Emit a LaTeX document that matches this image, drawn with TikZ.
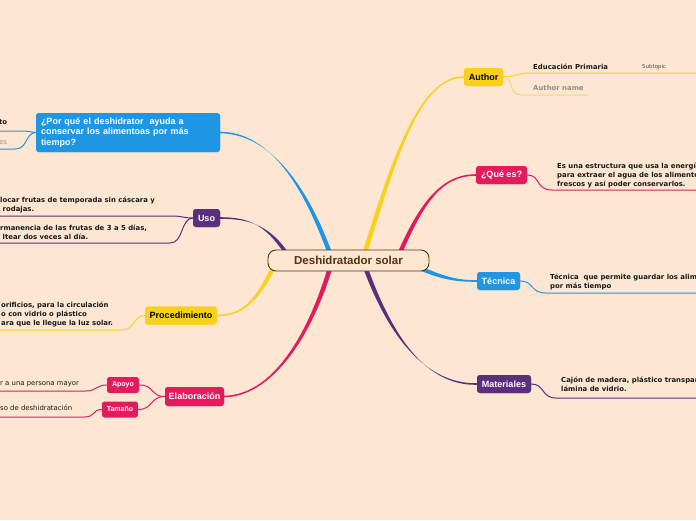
\documentclass[tikz,border=0pt]{standalone}
\usepackage{fontspec}
\setmainfont{Liberation Sans}
\newfontfamily\dejavu{DejaVu Sans}
\usetikzlibrary{calc}
\definecolor{bg}{RGB}{253,231,210}
\definecolor{myyellow}{RGB}{249,208,30}
\definecolor{mypink}{RGB}{226,27,95}
\definecolor{myblue}{RGB}{30,150,228}
\definecolor{mypurple}{RGB}{92,46,126}
\definecolor{brownc}{RGB}{85,50,12}
\definecolor{graytxt}{RGB}{150,140,128}
\definecolor{lightyellow}{RGB}{246,215,110}
\definecolor{darktxt}{RGB}{25,25,25}
\newcommand\taper[6]{%
  \fill[#1] ($#2+#6$) .. controls ($#3+#6$) and ($#4+(0,0.8)$) .. ($#5+(0,0.8)$)
    -- ($#5-(0,0.8)$) .. controls ($#4-(0,0.8)$) and ($#3-#6$) .. ($#2-#6$) -- cycle;}
\begin{document}
\begin{tikzpicture}[x=1pt,y=-1pt,
  topic/.style={rounded corners=3pt, inner sep=0pt, text=white,
    font=\fontsize{9}{10.5}\selectfont\bfseries},
  subtopic/.style={rounded corners=2.5pt, inner sep=0pt, text=white, fill=mypink,
    font=\fontsize{7}{8}\selectfont\bfseries},
  note/.style={anchor=west, inner sep=0pt, align=left, text=darktxt,
    font=\dejavu\bfseries\fontsize{6.9}{9}\selectfont},
  plain/.style={anchor=west, inner sep=0pt, align=left, text=darktxt,
    font=\dejavu\fontsize{6.9}{9}\selectfont},
  thin/.style={line width=1pt}
]
\useasboundingbox (0,0) rectangle (696,520);
\clip (0,0) rectangle (696,520);
\fill[bg] (0,0) rectangle (696,520);

% nodes (positions)
\coordinate (c) at (348.5,260.5);
\node[topic, fill=myyellow, text=black, minimum width=39pt, minimum height=18pt] (author) at (483.5,77) {Author};
\node[topic, fill=mypink, minimum width=51pt, minimum height=18pt] (quees) at (501.5,175) {¿Qué es?};
\node[topic, fill=myblue, minimum width=43pt, minimum height=18pt] (tecnica) at (498.5,281) {Técnica};
\node[topic, fill=mypurple, minimum width=54pt, minimum height=18pt] (materiales) at (504,384) {Materiales};
\node[topic, fill=myblue, minimum width=184pt, minimum height=39pt, text width=174pt, inner xsep=5pt, align=left] (porque) at (128,132.5)
  {¿Por qué el deshidrator\ \ ayuda a\\conservar los alimentoas por más\\tiempo?};
\node[topic, fill=mypurple, minimum width=27pt, minimum height=18pt] (uso) at (206.5,218) {Uso};
\node[topic, fill=myyellow, text=black, minimum width=72pt, minimum height=18pt] (proc) at (181,315.5) {Procedimiento};
\node[topic, fill=mypink, minimum width=59pt, minimum height=19pt] (elab) at (194.5,396.5) {Elaboración};
\node[subtopic, minimum width=32pt, minimum height=16pt] (apoyo) at (123,385) {Apoyo};
\node[subtopic, minimum width=36pt, minimum height=16pt] (tamano) at (120,409.5) {Tamaño};

% main branches
\taper{myyellow}{(362,262)}{(392,165)}{(418,77)}{(author.west)}{(2.4,0)}
\taper{mypink}{(396,262)}{(420,205)}{(440,175)}{(quees.west)}{(2.4,0)}
\taper{myblue}{(405,262)}{(440,277)}{(452,281)}{(tecnica.west)}{(0,2.4)}
\taper{mypurple}{(362,258)}{(385,325)}{(420,385)}{(materiales.west)}{(2.4,0)}
\taper{myblue}{(333,262)}{(308,190)}{(272,133)}{(porque.east)}{(2.4,0)}
\taper{mypurple}{(292,262)}{(270,225)}{(250,218)}{(uso.east)}{(2.4,0)}
\taper{myyellow}{(278,258)}{(258,300)}{(245,315)}{(proc.east)}{(2.4,0)}
\taper{mypink}{(333,258)}{(310,340)}{(270,396)}{(elab.east)}{(2.4,0)}

% redraw boxes above branches
\node[topic, fill=myyellow, text=black, minimum width=39pt, minimum height=18pt] at (author) {Author};
\node[topic, fill=mypink, minimum width=51pt, minimum height=18pt] at (quees) {¿Qué es?};
\node[topic, fill=myblue, minimum width=43pt, minimum height=18pt] at (tecnica) {Técnica};
\node[topic, fill=mypurple, minimum width=54pt, minimum height=18pt] at (materiales) {Materiales};
\node[topic, fill=myblue, minimum width=184pt, minimum height=39pt, text width=174pt, inner xsep=5pt, align=left] at (porque)
  {¿Por qué el deshidrator\ \ ayuda a\\conservar los alimentoas por más\\tiempo?};
\node[topic, fill=mypurple, minimum width=27pt, minimum height=18pt] at (uso) {Uso};
\node[topic, fill=myyellow, text=black, minimum width=72pt, minimum height=18pt] at (proc) {Procedimiento};
\node[topic, fill=mypink, minimum width=59pt, minimum height=19pt] at (elab) {Elaboración};

% central node
\node[draw=brownc, line width=0.9pt, fill=bg, rounded corners=8pt, minimum width=161pt, minimum height=21pt,
  inner sep=0pt, text=brownc, font=\fontsize{11.5}{12}\selectfont\bfseries] (ctr) at (c) {Deshidratador solar};

% right side sub lines and texts
\coordinate (k1) at (530,73); \coordinate (e1) at (700,73);
\draw[myyellow, thin] (author.east) .. controls (516,77) and (516,73) .. (k1) -- (e1);
\coordinate (k2) at (521,95); \coordinate (e2) at (588,95);
\draw[lightyellow, thin] (author.east) .. controls (513,77) and (509,95) .. (k2) -- (e2);
\node[note] (edu) at (533,67) {Educación Primaria};
\node[anchor=west, inner sep=0pt, text=black!70, font=\dejavu\fontsize{5.5}{6}\selectfont] (sub) at (642,67) {Subtopic};
\node[note, text=graytxt] (aname) at (533,88) {Author name};

\coordinate (k3) at (552,190); \coordinate (e3) at (700,190);
\draw[mypink, thin] (quees.east) .. controls (541,175) and (535,190) .. (k3) -- (e3);
\node[note] (t3) at (557,175) {Es una estructura que usa la energí\\para extraer el agua de los alimento\\frescos y así poder conservarlos.};

\coordinate (k4) at (546,293); \coordinate (e4) at (700,293);
\draw[myblue, thin] (tecnica.east) .. controls (534,281) and (530,293) .. (k4) -- (e4);
\node[note] (t4) at (550,281.5) {Técnica\ \ que permite guardar los alim\\por más tiempo};

\coordinate (k5) at (556,398); \coordinate (e5) at (700,398);
\draw[mypurple, thin] (materiales.east) .. controls (545,384) and (541,398) .. (k5) -- (e5);
\node[note] (t5) at (561,384.5) {Cajón de madera, plástico transpar\\lámina de vidrio.};

% left side sub lines and texts
\coordinate (k6) at (25,131); \coordinate (e6) at (-5,131);
\draw[myblue, thin] (porque.west) .. controls (30,132) and (30,131) .. (k6) -- (e6);
\coordinate (k7) at (15,149); \coordinate (e7) at (-5,149);
\draw[myblue, thin] (porque.west) .. controls (25,133) and (28,149) .. (k7) -- (e7);
\node[note] (t6) at (-1,122) {to};
\node[plain, text=graytxt] (t7) at (-1,143) {es};

\coordinate (k8) at (172,216); \coordinate (e8) at (-5,216);
\draw[mypurple, thin] (uso.west) .. controls (184,218) and (182,216) .. (k8) -- (e8);
\coordinate (k9) at (170,243); \coordinate (e9) at (-5,243);
\draw[mypurple, thin] (uso.west) .. controls (180,219) and (184,243) .. (k9) -- (e9);
\node[note] (t8) at (0,204.5) {locar frutas de temporada sin cáscara y\\\hspace*{2.5pt}rodajas.};
\node[note] (t9) at (0,232.5) {rmanencia de las frutas de 3 a 5 días,\\\hspace*{2.5pt}ltear dos veces al día.};

\coordinate (k10) at (122,330); \coordinate (e10) at (-5,330);
\draw[myyellow, thin] (proc.west) .. controls (133,316) and (135,330) .. (k10) -- (e10);
\node[note] (t10) at (1,314.5) {orificios, para la circulación\\o con vidrio o plástico\\ara que le llegue la luz solar.};

\draw[mypink, thin] (elab.west) .. controls (150,396.5) and (155,385) .. (apoyo.east);
\draw[mypink, thin] (elab.west) .. controls (150,396.5) and (153,409.5) .. (tamano.east);
\coordinate (k11) at (86,391); \coordinate (e11) at (-5,391);
\draw[mypink, thin] (apoyo.west) .. controls (96,385) and (97,391) .. (k11) -- (e11);
\coordinate (k12) at (84,417); \coordinate (e12) at (-5,417);
\draw[mypink, thin] (tamano.west) .. controls (92,409.5) and (96,417) .. (k12) -- (e12);
\node[plain] (t11) at (0,384) {r a una persona mayor};
\node[plain] (t12) at (0,408) {so de deshidratación};
\end{tikzpicture}
\end{document}
